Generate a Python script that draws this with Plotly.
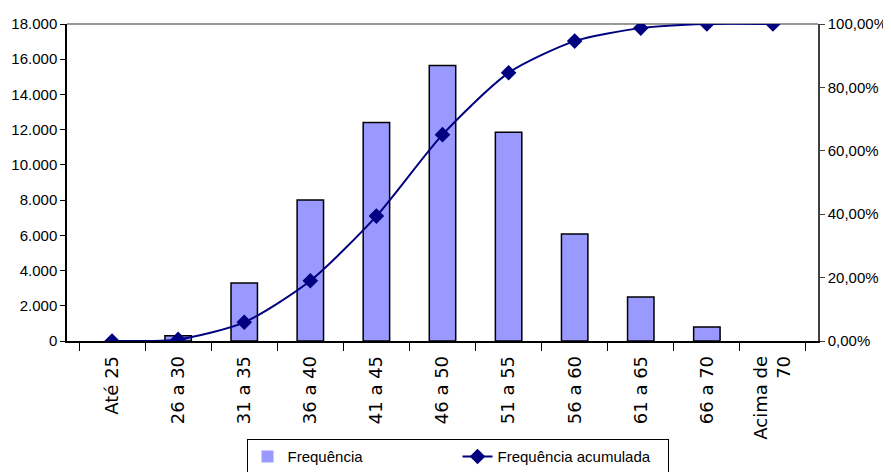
import plotly.graph_objects as go

# Dados
faixas = ["Até 25", "26 a 30", "31 a 35", "36 a 40", "41 a 45", "46 a 50",
          "51 a 55", "56 a 60", "61 a 65", "66 a 70", "Acima de<br>70"]
frequencia = [0, 300, 3300, 8000, 12400, 15650, 11850, 6080, 2500, 800, 0]
freq_acumulada = [0.0, 0.005, 0.059, 0.19, 0.394, 0.651, 0.846, 0.946, 0.987, 1.0, 1.0]

fonte = "Liberation Sans, Arial, sans-serif"
fonte_categ = "DejaVu Sans, sans-serif"

fig = go.Figure()

fig.add_trace(go.Bar(
    x=faixas,
    y=frequencia,
    name="Frequência",
    marker=dict(color="#9999FF",
                line=dict(color="black",
                          width=[0 if v == 0 else 1.5 for v in frequencia])),
    width=0.4,
))

fig.add_trace(go.Scatter(
    x=faixas,
    y=freq_acumulada,
    name="Frequência acumulada",
    yaxis="y2",
    mode="lines+markers",
    line=dict(color="#000080", width=2, shape="spline", smoothing=0.7),
    marker=dict(symbol="diamond", size=12, color="#000080"),
))

# a página tem margem de 8px no body, por isso as margens descontam 8px
fig.update_layout(
    width=891,
    height=472,
    margin=dict(l=59, r=81, t=16, b=139, autoexpand=False),
    plot_bgcolor="white",
    paper_bgcolor="white",
    separators=",.",
    font=dict(family=fonte, size=15, color="black"),
    showlegend=True,
    legend=dict(
        orientation="h",
        x=0.52, xanchor="center",
        y=-0.31, yanchor="top",
        bordercolor="black", borderwidth=1,
        font=dict(family=fonte, size=15),
        entrywidth=165, entrywidthmode="pixels",
    ),
    xaxis=dict(
        type="category",
        automargin=False,
        showline=True, linecolor="black", linewidth=1.5,
        ticks="outside", tickson="boundaries", ticklen=8,
        tickcolor="black", tickangle=-90,
        ticklabelstandoff=6,
        showgrid=False,
        tickfont=dict(family=fonte_categ, size=18),
    ),
    yaxis=dict(
        automargin=False,
        range=[0, 18000], dtick=2000, tickformat=",d",
        showline=True, linecolor="black", linewidth=1.5,
        ticks="outside", ticklen=5, tickcolor="black",
        showgrid=False, zeroline=False,
        tickfont=dict(size=15),
    ),
    yaxis2=dict(
        automargin=False,
        overlaying="y", side="right",
        range=[0, 1], dtick=0.2, tickformat=".2%",
        showline=True, linecolor="#404040", linewidth=1.5,
        ticks="outside", ticklen=5, tickcolor="#404040",
        showgrid=False, zeroline=False,
        tickfont=dict(size=15),
    ),
    shapes=[dict(type="line", xref="paper", yref="paper",
                 x0=0, x1=1, y0=1, y1=1,
                 line=dict(color="#999999", width=2), layer="below")],
)

fig.write_html("out.html")
